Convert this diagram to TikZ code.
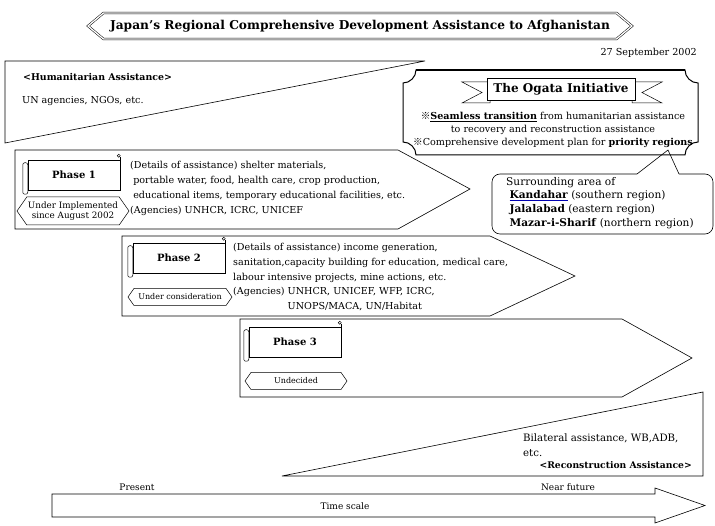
\documentclass[tikz,border=0pt]{standalone}
\usepackage{fontspec}
\setmainfont{DejaVu Serif}
\newfontfamily\cjk{Noto Sans CJK JP}
\usepackage{tikz}
\usetikzlibrary{shapes.symbols, calc, positioning}

\newcommand{\refmark}{{\cjk ※}}

\begin{document}
\begin{tikzpicture}[x=1pt, y=-1pt,
    outline/.style={draw=black, line width=0.6pt},
    titlebanner/.style={draw, signal, signal to=east and west, signal pointer angle=80, double=white, double distance=1.3pt, line width=0.5pt, minimum width=544, minimum height=26, inner sep=0pt, font=\fontsize{12.2}{15}\selectfont\bfseries},
    scrollbox/.style={draw, fill=white, line width=0.5pt, minimum width=92, minimum height=30, inner sep=0pt, font=\fontsize{10}{12}\selectfont\bfseries},
    tagbox/.style={draw, fill=white, signal, signal to=east and west, signal pointer angle=110, line width=0.5pt, inner sep=1.2pt, align=center, font=\fontsize{8}{9.6}\selectfont},
    bodytext/.style={anchor=north west, align=left, inner sep=0pt, font=\fontsize{9.6}{15}\selectfont},
    smalltext/.style={inner sep=0pt, font=\fontsize{9}{11}\selectfont}
]
\useasboundingbox (0,0) rectangle (715,526);

% title and date
\node[titlebanner] (title) at (360,26) {Japan's Regional Comprehensive Development Assistance to Afghanistan};
\node[smalltext, anchor=east, font=\fontsize{9.6}{11}\selectfont] (date) at (697,53) {27 September 2002};

% humanitarian assistance wedge
\draw[outline] (5,61) -- (425,61) -- (5,143) -- cycle;
\node[anchor=west, inner sep=0pt, font=\fontsize{9.4}{11}\selectfont\bfseries] (human) at (23,77) {<Humanitarian Assistance>};
\node[anchor=west, inner sep=0pt, font=\fontsize{9.6}{11}\selectfont] (unagency) at (22,101) {UN agencies, NGOs, etc.};

% Ogata initiative plaque
\draw[line width=1pt] (416,70) -- (685,70) .. controls (685,77) and (691,83) .. (698,83)
    -- (698,142) .. controls (691,142) and (685,148) .. (685,155)
    -- (416,155) .. controls (416,148) and (410,142) .. (403,142)
    -- (403,83) .. controls (410,83) and (416,77) .. cycle;
\draw[line width=2.4pt] (416,70) -- (685,70);
\draw[fill=white, line width=0.5pt] (462,82) -- (490,82) -- (490,103) -- (462,103) -- (482,92.5) -- cycle;
\draw[fill=white, line width=0.5pt] (662,82) -- (632,82) -- (632,103) -- (662,103) -- (642,92.5) -- cycle;
\node[draw, fill=white, line width=0.6pt, minimum width=148, minimum height=22, inner sep=0pt, font=\fontsize{12}{15}\selectfont\bfseries] (ogata) at (561,89) {The Ogata Initiative};
\node[anchor=north, align=center, inner sep=0pt, font=\fontsize{9.6}{12.8}\selectfont] (ogatatext) at (553,112)
    {\refmark\underline{\textbf{Seamless transition}} from humanitarian assistance\\
     to recovery and reconstruction assistance\\
     \refmark Comprehensive development plan for \textbf{priority regions}};

% priority regions callout
\draw[line width=0.6pt, rounded corners=8] (679,174) -- (713,174) -- (713,234) -- (492,234) -- (492,174) -- (637,174);
\draw[line width=0.6pt] (637,174) -- (668,150) -- (679,174);
\node[anchor=north west, align=left, inner sep=0pt, font=\fontsize{10.6}{13.6}\selectfont] (regions) at (506,177)
    {Surrounding area of\\
     \ \textcolor{blue!70!black}{\underline{\textcolor{black}{\textbf{Kandahar}}}} (southern region)\\
     \ \textbf{Jalalabad} (eastern region)\\
     \ \textbf{Mazar-i-Sharif} (northern region)};

% phase arrows
\draw[outline, fill=white] (15,150) -- (398,150) -- (470,189) -- (398,229) -- (15,229) -- cycle;
\draw[outline, fill=white] (122,236) -- (490,236) -- (575,276) -- (490,316) -- (122,316) -- cycle;
\draw[outline, fill=white] (240,319) -- (622,319) -- (692,358) -- (622,397) -- (240,397) -- cycle;

\node[scrollbox] (scroll1) at (74,175) {Phase 1};
\node[scrollbox] (scroll2) at (179,258) {Phase 2};
\node[scrollbox] (scroll3) at (295,342) {Phase 3};
\foreach \s in {scroll1,scroll2,scroll3}{
    \draw[fill=white, line width=0.5pt, rounded corners=2] ($(\s.north west)+(-5,3)$) rectangle ($(\s.south west)+(0,4)$);
    \draw[line width=0.5pt] (\s.north east) -- ++(0,-3);
    \draw[fill=white, line width=0.5pt] ($(\s.north east)+(-1.5,-4)$) circle[radius=1.6pt];
}

\node[tagbox, minimum width=104, minimum height=28, font=\fontsize{8.8}{10.4}\selectfont] (tag1) at (73,211) {Under Implemented\\since August 2002};
\node[tagbox, minimum width=104, minimum height=17] (tag2) at (180,297) {Under consideration};
\node[tagbox, minimum width=102, minimum height=17] (tag3) at (296,381) {Undecided};

\node[bodytext] (detail1) at (130,161)
    {(Details of assistance) shelter materials,\\
     \ portable water, food, health care, crop production,\\
     \ educational items, temporary educational facilities, etc.\\
     (Agencies) UNHCR, ICRC, UNICEF};
\node[bodytext, font=\fontsize{9.6}{14.8}\selectfont] (detail2) at (233,243)
    {(Details of assistance) income generation,\\
     sanitation,capacity building for education, medical care,\\
     labour intensive projects, mine actions, etc.\\
     (Agencies) UNHCR, UNICEF, WFP, ICRC,\\
     \phantom{(Agencies) }UNOPS/MACA, UN/Habitat};

% reconstruction assistance wedge
\draw[outline] (282,476) -- (703,392) -- (703,476) -- cycle;
\node[anchor=north west, align=left, inner sep=0pt, font=\fontsize{10.2}{14.5}\selectfont] (bilateral) at (523,434)
    {Bilateral assistance, WB,ADB,\\etc.};
\node[anchor=east, inner sep=0pt, font=\fontsize{9.2}{11}\selectfont\bfseries] (recon) at (692,465) {<Reconstruction Assistance>};

% time scale
\node[smalltext] (present) at (137,487) {Present};
\node[smalltext] (future) at (568,487) {Near future};
\draw[outline] (52,494) -- (655,494) -- (655,488) -- (705,505.5) -- (655,523) -- (655,517) -- (52,517) -- cycle;
\node[smalltext] (timescale) at (345,506) {Time scale};
\end{tikzpicture}
\end{document}
